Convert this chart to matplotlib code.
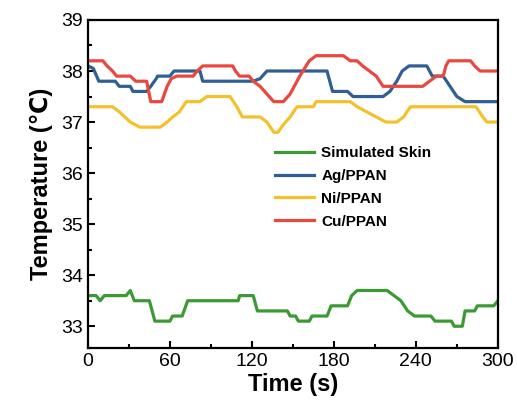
import numpy as np
import matplotlib
matplotlib.use("Agg")
import matplotlib.pyplot as plt
from matplotlib.ticker import MultipleLocator

# time (s) / temperature (C) breakpoints

t_skin = [0, 6, 9, 12, 28, 31, 34, 45, 49, 60, 62, 69, 73, 110, 111, 121, 124, 146, 148, 152,
          154, 162, 164, 175, 178, 190, 193, 197, 219, 224, 229, 234, 239, 251, 254, 266,
          268, 274, 276, 283, 285, 297, 300]
T_skin = [33.6, 33.6, 33.5, 33.6, 33.6, 33.7, 33.5, 33.5, 33.1, 33.1, 33.2, 33.2, 33.5, 33.5,
          33.6, 33.6, 33.3, 33.3, 33.2, 33.2, 33.1, 33.1, 33.2, 33.2, 33.4, 33.4, 33.6, 33.7,
          33.7, 33.6, 33.5, 33.3, 33.2, 33.2, 33.1, 33.1, 33.0, 33.0, 33.3, 33.3, 33.4, 33.4, 33.5]

t_ag = [0, 4, 8, 20, 23, 31, 33, 43, 46, 50, 51, 60, 63, 82, 84, 121, 126, 131, 175, 179,
        190, 194, 216, 221, 226, 230, 235, 248, 252, 260, 265, 270, 276, 300]
T_ag = [38.1, 38.05, 37.8, 37.8, 37.7, 37.7, 37.6, 37.6, 37.7, 37.85, 37.9, 37.9, 38.0, 38.0,
        37.8, 37.8, 37.85, 38.0, 38.0, 37.6, 37.6, 37.5, 37.5, 37.6, 37.8, 38.0, 38.1, 38.1,
        37.9, 37.9, 37.7, 37.5, 37.4, 37.4]

t_ni = [0, 18, 23, 31, 38, 53, 58, 62, 67, 72, 82, 87, 104, 109, 113, 126, 131, 136, 139,
        143, 148, 153, 165, 167, 192, 197, 204, 211, 218, 226, 231, 236, 284, 289, 292, 300]
T_ni = [37.3, 37.3, 37.2, 37.0, 36.9, 36.9, 37.0, 37.1, 37.2, 37.4, 37.4, 37.5, 37.5, 37.3,
        37.1, 37.1, 37.0, 36.8, 36.8, 36.95, 37.1, 37.3, 37.3, 37.4, 37.4, 37.3, 37.2, 37.1,
        37.0, 37.0, 37.1, 37.3, 37.3, 37.1, 37.0, 37.0]

t_cu = [0, 11, 14, 18, 21, 31, 35, 43, 46, 54, 58, 61, 65, 77, 80, 84, 106, 108, 111, 118,
        121, 126, 131, 136, 143, 148, 155, 162, 167, 187, 192, 197, 201, 206, 211, 216, 245,
        250, 255, 260, 262, 264, 280, 283, 287, 300]
T_cu = [38.2, 38.2, 38.1, 38.0, 37.9, 37.9, 37.8, 37.8, 37.4, 37.4, 37.7, 37.85, 37.9, 37.9,
        38.0, 38.1, 38.1, 38.0, 37.9, 37.9, 37.8, 37.7, 37.55, 37.4, 37.4, 37.55, 37.9, 38.2,
        38.3, 38.3, 38.2, 38.2, 38.1, 38.0, 37.9, 37.7, 37.7, 37.8, 37.9, 37.9, 38.1, 38.2,
        38.2, 38.1, 38.0, 38.0]

labels = ['Simulated Skin', 'Ag/PPAN', 'Ni/PPAN', 'Cu/PPAN']
colors = ['#3c9a34', '#2f5f95', '#f4c12c', '#e9483f']

plt.rcParams['font.family'] = ['Liberation Sans', 'DejaVu Sans']

fig = plt.figure(figsize=(5.17, 4.16), dpi=100)
ax = fig.add_axes([0.170, 0.163, 0.793, 0.789])

series = [(t_skin, T_skin), (t_ag, T_ag), (t_ni, T_ni), (t_cu, T_cu)]
for (t, T), lab, c in zip(series, labels, colors):
    ax.plot(t, T, color=c, lw=2.3, label=lab)

ax.set_xlim(0, 300)
ax.set_ylim(32.57, 39)
ax.xaxis.set_major_locator(MultipleLocator(60))
ax.xaxis.set_minor_locator(MultipleLocator(30))
ax.yaxis.set_major_locator(MultipleLocator(1))
ax.yaxis.set_minor_locator(MultipleLocator(0.5))
ax.tick_params(which='both', direction='in', width=1.5, labelsize=14)
ax.tick_params(which='major', length=5)
ax.tick_params(which='minor', length=3)
for s in ax.spines.values():
    s.set_linewidth(1.6)

ax.set_xlabel('Time (s)', fontsize=17, fontweight='bold', labelpad=2)
ax.set_ylabel('Temperature (\u2103)', fontsize=17, fontweight='bold', labelpad=6)

ax.legend(loc='center left', bbox_to_anchor=(0.422, 0.49), frameon=False,
          prop={'weight': 'bold', 'size': 11}, handlelength=2.6,
          labelspacing=0.58, handletextpad=0.45)

fig.savefig('out.png', dpi=100)
